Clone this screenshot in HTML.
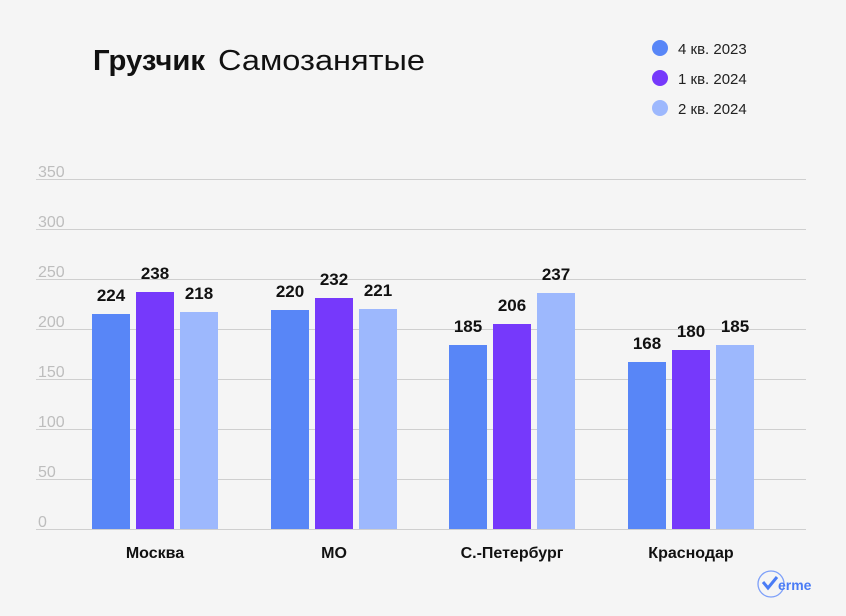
<!DOCTYPE html>
<html><head><meta charset="utf-8"><style>
body{margin:0;background:#f5f5f5;}
svg{display:block;font-family:"Liberation Sans",sans-serif;}
</style></head><body>
<svg width="846" height="616" viewBox="0 0 846 616">
<rect width="846" height="616" fill="#f5f5f5"/>
<text x="93" y="70" font-size="29" fill="#111" font-weight="bold" textLength="112" lengthAdjust="spacingAndGlyphs">Грузчик</text>
<text x="218" y="70" font-size="29" fill="#111" textLength="207" lengthAdjust="spacingAndGlyphs">Самозанятые</text>
<g font-size="15" fill="#222">
<circle cx="660" cy="48" r="8" fill="#5886f7"/><text x="678" y="54">4 кв. 2023</text>
<circle cx="660" cy="78" r="8" fill="#7639fb"/><text x="678" y="84">1 кв. 2024</text>
<circle cx="660" cy="108" r="8" fill="#9db8fd"/><text x="678" y="114">2 кв. 2024</text>
</g>
<g stroke="#cfcfcf" stroke-width="1">
<line x1="36" x2="806" y1="179.5" y2="179.5"/><line x1="36" x2="806" y1="229.5" y2="229.5"/>
<line x1="36" x2="806" y1="279.5" y2="279.5"/><line x1="36" x2="806" y1="329.5" y2="329.5"/>
<line x1="36" x2="806" y1="379.5" y2="379.5"/><line x1="36" x2="806" y1="429.5" y2="429.5"/>
<line x1="36" x2="806" y1="479.5" y2="479.5"/><line x1="36" x2="806" y1="529.5" y2="529.5"/>
</g>
<g font-size="16" fill="#bdbdbd">
<text x="38" y="177">350</text><text x="38" y="227">300</text><text x="38" y="277">250</text>
<text x="38" y="327">200</text><text x="38" y="377">150</text><text x="38" y="427">100</text>
<text x="38" y="477">50</text><text x="38" y="527">0</text>
</g>
<g>
<rect x="92" y="314" width="38" height="215" fill="#5886f7"/><rect x="136" y="292" width="38" height="237" fill="#7639fb"/><rect x="180" y="312" width="38" height="217" fill="#9db8fd"/>
<rect x="271" y="310" width="38" height="219" fill="#5886f7"/><rect x="315" y="298" width="38" height="231" fill="#7639fb"/><rect x="359" y="309" width="38" height="220" fill="#9db8fd"/>
<rect x="449" y="345" width="38" height="184" fill="#5886f7"/><rect x="493" y="324" width="38" height="205" fill="#7639fb"/><rect x="537" y="293" width="38" height="236" fill="#9db8fd"/>
<rect x="628" y="362" width="38" height="167" fill="#5886f7"/><rect x="672" y="350" width="38" height="179" fill="#7639fb"/><rect x="716" y="345" width="38" height="184" fill="#9db8fd"/>
</g>
<g font-size="17" font-weight="bold" fill="#111" text-anchor="middle">
<text x="111" y="301">224</text><text x="155" y="279">238</text><text x="199" y="299">218</text>
<text x="290" y="297">220</text><text x="334" y="285">232</text><text x="378" y="296">221</text>
<text x="468" y="332">185</text><text x="512" y="311">206</text><text x="556" y="280">237</text>
<text x="647" y="349">168</text><text x="691" y="337">180</text><text x="735" y="332">185</text>
</g>
<g font-size="16" font-weight="bold" fill="#111" text-anchor="middle">
<text x="155" y="558">Москва</text><text x="334" y="558">МО</text>
<text x="512" y="558">С.-Петербург</text><text x="691" y="558">Краснодар</text>
</g>
<g>
<circle cx="771" cy="584" r="13" fill="none" stroke="#7ea0f9" stroke-width="1.3"/>
<path d="M763 582 l5 6 l9 -11" fill="none" stroke="#4a7cf5" stroke-width="3"/>
<text x="778" y="590" font-size="14" font-weight="bold" fill="#4a7cf5">erme</text>
</g>
</svg>
</body></html>
